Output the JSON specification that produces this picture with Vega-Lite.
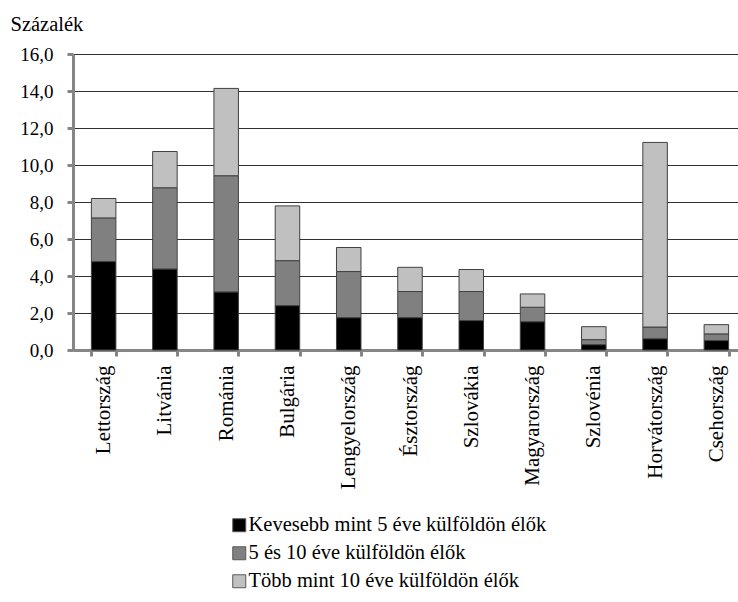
{
  "$schema": "https://vega.github.io/schema/vega-lite/v6.json",
  "width": 665,
  "height": 296,
  "autosize": {"type": "none"},
  "padding": {"left": 73, "top": 54, "right": 0, "bottom": 252},
  "background": "white",
  "config": {
    "view": {"stroke": null},
    "font": "Liberation Serif",
    "axis": {"titleFont": "Liberation Serif", "labelFont": "Liberation Serif"},
    "legend": {"labelFont": "Liberation Serif"}
  },
  "data": {
    "values": [
      {"orszag": "Lettország", "kategoria": "Kevesebb mint 5 éve külföldön élők", "n": 1, "ertek": 4.78},
      {"orszag": "Lettország", "kategoria": " 5 és 10 éve külföldön élők", "n": 2, "ertek": 2.36},
      {"orszag": "Lettország", "kategoria": "Több mint 10 éve külföldön élők", "n": 3, "ertek": 1.05},
      {"orszag": "Litvánia", "kategoria": "Kevesebb mint 5 éve külföldön élők", "n": 1, "ertek": 4.38},
      {"orszag": "Litvánia", "kategoria": " 5 és 10 éve külföldön élők", "n": 2, "ertek": 4.39},
      {"orszag": "Litvánia", "kategoria": "Több mint 10 éve külföldön élők", "n": 3, "ertek": 1.96},
      {"orszag": "Románia", "kategoria": "Kevesebb mint 5 éve külföldön élők", "n": 1, "ertek": 3.14},
      {"orszag": "Románia", "kategoria": " 5 és 10 éve külföldön élők", "n": 2, "ertek": 6.28},
      {"orszag": "Románia", "kategoria": "Több mint 10 éve külföldön élők", "n": 3, "ertek": 4.72},
      {"orszag": "Bulgária", "kategoria": "Kevesebb mint 5 éve külföldön élők", "n": 1, "ertek": 2.40},
      {"orszag": "Bulgária", "kategoria": " 5 és 10 éve külföldön élők", "n": 2, "ertek": 2.43},
      {"orszag": "Bulgária", "kategoria": "Több mint 10 éve külföldön élők", "n": 3, "ertek": 2.96},
      {"orszag": "Lengyelország", "kategoria": "Kevesebb mint 5 éve külföldön élők", "n": 1, "ertek": 1.75},
      {"orszag": "Lengyelország", "kategoria": " 5 és 10 éve külföldön élők", "n": 2, "ertek": 2.49},
      {"orszag": "Lengyelország", "kategoria": "Több mint 10 éve külföldön élők", "n": 3, "ertek": 1.30},
      {"orszag": "Észtország", "kategoria": "Kevesebb mint 5 éve külföldön élők", "n": 1, "ertek": 1.75},
      {"orszag": "Észtország", "kategoria": " 5 és 10 éve külföldön élők", "n": 2, "ertek": 1.41},
      {"orszag": "Észtország", "kategoria": "Több mint 10 éve külföldön élők", "n": 3, "ertek": 1.31},
      {"orszag": "Szlovákia", "kategoria": "Kevesebb mint 5 éve külföldön élők", "n": 1, "ertek": 1.59},
      {"orszag": "Szlovákia", "kategoria": " 5 és 10 éve külföldön élők", "n": 2, "ertek": 1.57},
      {"orszag": "Szlovákia", "kategoria": "Több mint 10 éve külföldön élők", "n": 3, "ertek": 1.19},
      {"orszag": "Magyarország", "kategoria": "Kevesebb mint 5 éve külföldön élők", "n": 1, "ertek": 1.53},
      {"orszag": "Magyarország", "kategoria": " 5 és 10 éve külföldön élők", "n": 2, "ertek": 0.78},
      {"orszag": "Magyarország", "kategoria": "Több mint 10 éve külföldön élők", "n": 3, "ertek": 0.72},
      {"orszag": "Szlovénia", "kategoria": "Kevesebb mint 5 éve külföldön élők", "n": 1, "ertek": 0.29},
      {"orszag": "Szlovénia", "kategoria": " 5 és 10 éve külföldön élők", "n": 2, "ertek": 0.27},
      {"orszag": "Szlovénia", "kategoria": "Több mint 10 éve külföldön élők", "n": 3, "ertek": 0.70},
      {"orszag": "Horvátország", "kategoria": "Kevesebb mint 5 éve külföldön élők", "n": 1, "ertek": 0.61},
      {"orszag": "Horvátország", "kategoria": " 5 és 10 éve külföldön élők", "n": 2, "ertek": 0.63},
      {"orszag": "Horvátország", "kategoria": "Több mint 10 éve külföldön élők", "n": 3, "ertek": 9.98},
      {"orszag": "Csehország", "kategoria": "Kevesebb mint 5 éve külföldön élők", "n": 1, "ertek": 0.51},
      {"orszag": "Csehország", "kategoria": " 5 és 10 éve külföldön élők", "n": 2, "ertek": 0.36},
      {"orszag": "Csehország", "kategoria": "Több mint 10 éve külföldön élők", "n": 3, "ertek": 0.50}
    ]
  },
  "mark": {"type": "bar", "stroke": "#404040", "strokeWidth": 1},
  "encoding": {
    "x": {
      "field": "orszag",
      "type": "nominal",
      "sort": null,
      "scale": {"range": [0, 674], "paddingInner": 0.6, "paddingOuter": 0.3},
      "axis": {
        "title": null,
        "labelAngle": -90,
        "labelFont": "Liberation Serif",
        "labelFontSize": 21,
        "labelColor": "#000000",
        "labelPadding": 9,
        "labelLimit": 300,
        "domainColor": "#868686",
        "domainWidth": 3,
        "tickColor": "#868686",
        "tickWidth": 3,
        "tickSize": 6,
        "tickBand": "extent"
      }
    },
    "y": {
      "field": "ertek",
      "type": "quantitative",
      "stack": "zero",
      "scale": {"domain": [0, 16], "nice": false},
      "axis": {
        "values": [0, 2, 4, 6, 8, 10, 12, 14, 16],
        "labelExpr": "replace(format(datum.value, '.1f'), '.', ',')",
        "grid": true,
        "gridColor": "#303030",
        "gridWidth": 1.2,
        "domainColor": "#868686",
        "domainWidth": 3,
        "tickColor": "#868686",
        "tickWidth": 3,
        "tickSize": 6,
        "labelPadding": 14,
        "labelFont": "Liberation Serif",
        "labelFontSize": 19,
        "labelColor": "#000000",
        "title": "Százalék",
        "titleFont": "Liberation Serif",
        "titleFontSize": 20.5,
        "titleFontWeight": "normal",
        "titleColor": "#000000",
        "titleAngle": 0,
        "titleAlign": "left",
        "titleBaseline": "alphabetic",
        "titleX": -63,
        "titleY": -24
      }
    },
    "color": {
      "field": "kategoria",
      "type": "nominal",
      "scale": {
        "domain": ["Kevesebb mint 5 éve külföldön élők", " 5 és 10 éve külföldön élők", "Több mint 10 éve külföldön élők"],
        "range": ["#000000", "#808080", "#C0C0C0"]
      },
      "legend": {
        "title": null,
        "orient": "none",
        "legendX": 156,
        "legendY": 461,
        "direction": "vertical",
        "padding": 0,
        "symbolType": "square",
        "symbolSize": 169,
        "symbolStrokeWidth": 1,
        "symbolStrokeColor": "#595959",
        "labelFont": "Liberation Serif",
        "labelFontSize": 20.5,
        "labelColor": "#000000",
        "labelOffset": -1,
        "rowPadding": 7,
        "labelLimit": 500,
        "labelExpr": "(datum.label == 'Kevesebb mint 5 éve külföldön élők' || datum.label == 'Több mint 10 éve külföldön élők') ? datum.label : '\u2005' + trim(datum.label)"
      }
    },
    "order": {"field": "n", "type": "quantitative"}
  }
}
